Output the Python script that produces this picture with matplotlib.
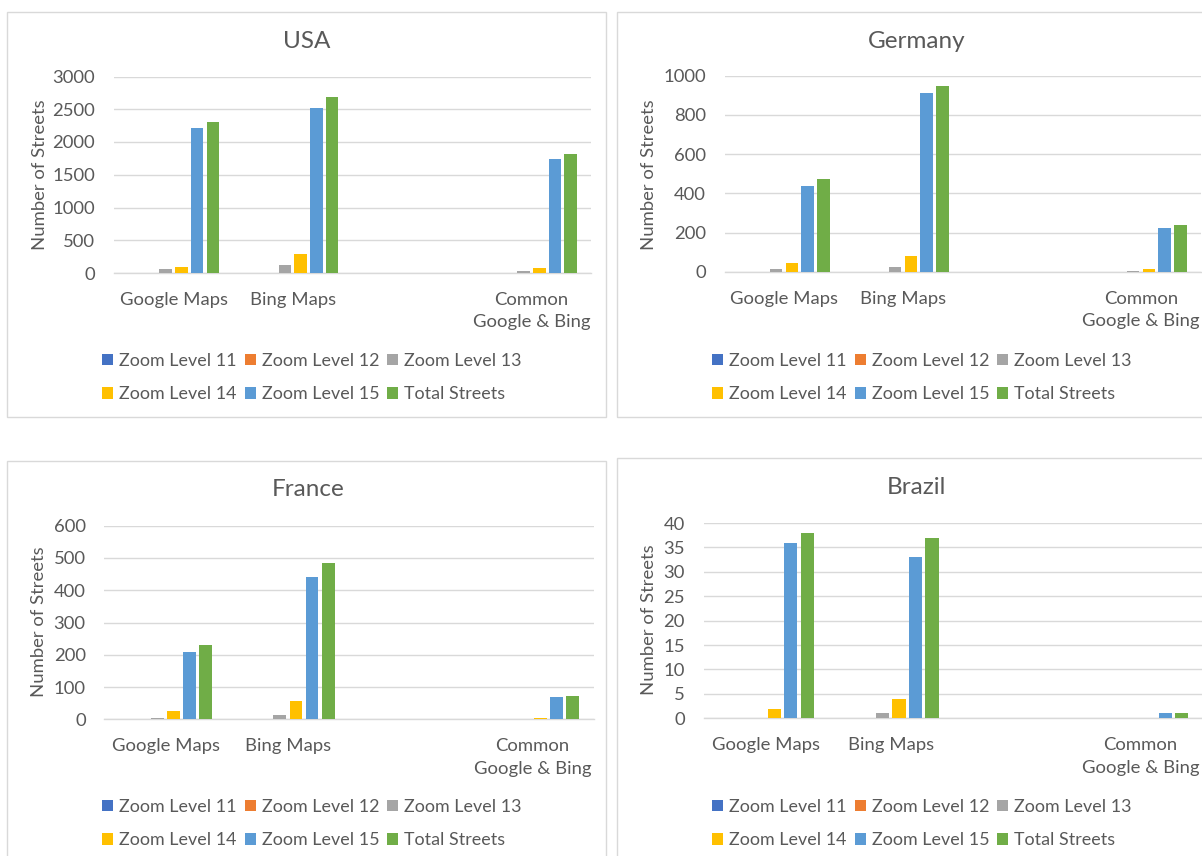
import numpy as np
import matplotlib
matplotlib.use('Agg')
import matplotlib.pyplot as plt
from matplotlib.patches import Rectangle

plt.rcParams['font.family'] = ['Lato', 'DejaVu Sans']

# data (third category is the empty spacer column)
categories = ['Google Maps', 'Bing Maps', '', 'Common\nGoogle & Bing']
series_names = ['Zoom Level 11', 'Zoom Level 12', 'Zoom Level 13',
                'Zoom Level 14', 'Zoom Level 15', 'Total Streets']
series_colors = ['#4472C4', '#ED7D31', '#A5A5A5', '#FFC000', '#5B9BD5', '#70AD47']

# values per series: [Google, Bing, blank, Common]
usa_z11 = [0, 0, None, 0]
usa_z12 = [0, 0, None, 0]
usa_z13 = [55, 115, None, 25]
usa_z14 = [97, 285, None, 70]
usa_z15 = [2212, 2512, None, 1745]
usa_total = [2298, 2690, None, 1820]

ger_z11 = [0, 0, None, 0]
ger_z12 = [0, 0, None, 0]
ger_z13 = [14, 27, None, 3]
ger_z14 = [46, 83, None, 14]
ger_z15 = [437, 912, None, 222]
ger_total = [476, 949, None, 237]

fra_z11 = [0, 0, None, 0]
fra_z12 = [0, 0, None, 0]
fra_z13 = [4, 14, None, 0]
fra_z14 = [27, 57, None, 5]
fra_z15 = [208, 442, None, 68]
fra_total = [229, 483, None, 73]

bra_z11 = [0, 0, None, 0]
bra_z12 = [0, 0, None, 0]
bra_z13 = [0, 1, None, 0]
bra_z14 = [2, 4, None, 0]
bra_z15 = [36, 33, None, 1]
bra_total = [38, 37, None, 1]

W, H = 1202, 856
fig = plt.figure(figsize=(W / 100, H / 100), dpi=100)

TXT = '#595959'
GRID = '#D9D9D9'
FS = 13.3      # axis text
LFS = 12.9     # legend text


def px_rect(x0, y0, x1, y1):
    # pixel box (top-left origin) -> figure fraction
    return [x0 / W, 1 - y1 / H, (x1 - x0) / W, (y1 - y0) / H]


def panel(box, plot, title, title_xy, ylab_xy, leg_xy, series, ymax, ystep):
    # outer chart border
    fig.patches.append(Rectangle((box[0] / W, 1 - box[3] / H),
                                 (box[2] - box[0]) / W, (box[3] - box[1]) / H,
                                 transform=fig.transFigure, fill=False,
                                 edgecolor=GRID, lw=1.0))
    ax = fig.add_axes(px_rect(*plot))
    x = np.arange(len(categories))
    step = 0.132
    bars = []
    for k, (vals, name, col) in enumerate(zip(series, series_names, series_colors)):
        v = np.array([np.nan if a is None else a for a in vals], dtype=float)
        bars.append(ax.bar(x + (k - 2.5) * step, v, width=0.105, color=col,
                           label=name, zorder=3))
    ax.set_xlim(-0.5, len(categories) - 0.5)
    ax.set_ylim(0, ymax)
    ax.set_yticks(np.arange(0, ymax + ystep / 2, ystep))
    ax.set_xticks(x)
    ax.set_xticklabels(categories, linespacing=1.5)
    ax.tick_params(axis='both', length=0, labelsize=FS, colors=TXT)
    ax.tick_params(axis='y', pad=13.5)
    ax.tick_params(axis='x', pad=13.5)
    ax.grid(axis='y', color=GRID, lw=1.0, zorder=0)
    for s in ['top', 'right', 'left']:
        ax.spines[s].set_visible(False)
    ax.spines['bottom'].set_color(GRID)
    ax.spines['bottom'].set_linewidth(1.0)
    fig.text(title_xy[0] / W, 1 - title_xy[1] / H, title, ha='center', va='center',
             fontsize=17.5, color=TXT)
    fig.text(ylab_xy[0] / W, 1 - ylab_xy[1] / H, 'Number of Streets', rotation=90,
             ha='center', va='center', fontsize=FS, color=TXT)
    # legend is filled column by column, so reorder to read row-wise like Excel
    order = [0, 3, 1, 4, 2, 5]
    ax.legend([bars[i] for i in order], [series_names[i] for i in order],
              loc='upper left', bbox_to_anchor=(leg_xy[0] / W, 1 - leg_xy[1] / H),
              bbox_transform=fig.transFigure, ncol=3, frameon=False, fontsize=LFS,
              labelcolor=TXT, handlelength=0.62, handleheight=0.62, handletextpad=0.33,
              columnspacing=0.45, labelspacing=0.96, borderpad=0, borderaxespad=0)
    return ax


panel((7, 12, 606, 417), (114, 76.5, 591, 273), 'USA', (307, 41), (40, 175), (102, 353),
      [usa_z11, usa_z12, usa_z13, usa_z14, usa_z15, usa_total], 3000, 500)
panel((617, 12, 1215, 417), (724.5, 75.7, 1200.5, 272), 'Germany', (917, 41), (649, 175),
      (712, 353), [ger_z11, ger_z12, ger_z13, ger_z14, ger_z15, ger_total], 1000, 200)
panel((7, 461, 606, 870), (104.4, 525.7, 593.6, 719.3), 'France', (308, 490), (39, 622),
      (102, 799), [fra_z11, fra_z12, fra_z13, fra_z14, fra_z15, fra_total], 600, 100)
panel((617, 458, 1215, 870), (703.6, 523, 1202.8, 718.3), 'Brazil', (916, 488), (649, 620),
      (712, 799), [bra_z11, bra_z12, bra_z13, bra_z14, bra_z15, bra_total], 40, 5)

fig.savefig('out.png', dpi=100)
